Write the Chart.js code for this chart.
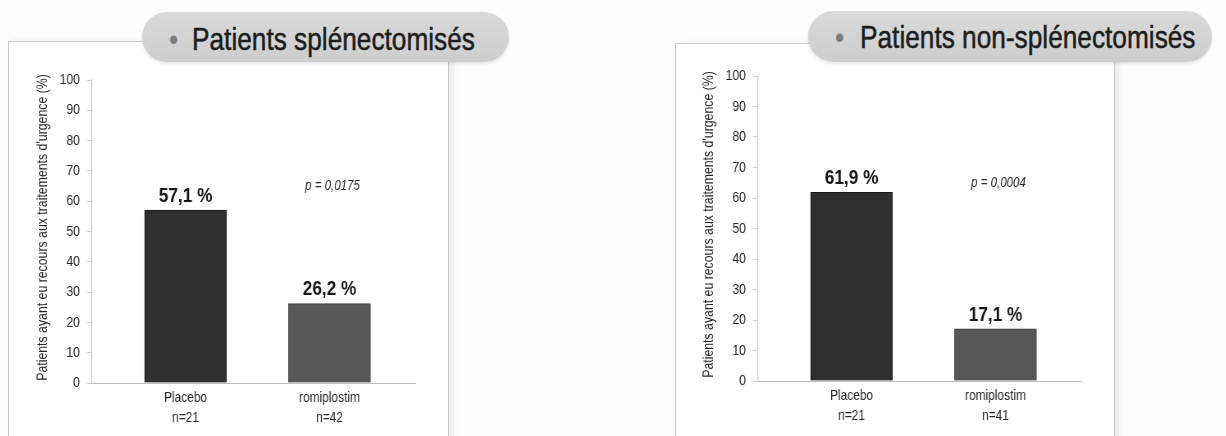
<!DOCTYPE html>
<html lang="fr">
<head>
<meta charset="utf-8">
<script src="https://cdn.jsdelivr.net/npm/chart.js@4/dist/chart.umd.min.js"></script>
<style>
    html, body {
        margin: 0;
        padding: 0;
        width: 1226px;
        height: 436px;
        overflow: hidden;
        background: #fdfdfd;
    }
    body {
        position: relative;
        font-family: "Liberation Sans", Arial, sans-serif;
    }
    .cadre {
        position: absolute;
        border: 1px solid #cbcbcb;
        background: #fff;
        box-shadow: 4px 0 6px rgba(0, 0, 0, 0.07);
    }
    .pastille {
        position: absolute;
        border-radius: 26px;
        background: linear-gradient(#dadada, #cdcdcd);
        box-shadow: 0 2px 3px rgba(0, 0, 0, 0.1);
        color: #1d1d1d;
        font-size: 32px;
        white-space: nowrap;
    }
    .pastille span {
        position: absolute;
        transform: scaleX(0.82);
        transform-origin: 0 0;
        -webkit-text-stroke: 0.5px #1d1d1d;
    }
    .pastille span.puce {
        color: #7c7c7c;
        -webkit-text-stroke: 0;
    }
    /* le canvas est dessiné plus large puis resserré : texte "narrow" */
    canvas {
        position: absolute;
        transform: scaleX(0.82);
        transform-origin: 0 0;
    }
</style>
</head>
<body>

<div class="cadre" style="left:8px; top:41px; width:439px; height:420px;"></div>
<div class="pastille" style="left:142px; top:12px; width:367px; height:50px; line-height:54px;">
    <span class="puce" style="left:27px;">•</span>
    <span style="left:50px;">Patients splénectomisés</span>
</div>
<canvas id="graphique-splen" width="512" height="376" style="left:20px; top:60px;"></canvas>

<div class="cadre" style="left:675px; top:43px; width:438px; height:420px;"></div>
<div class="pastille" style="left:808px; top:11px; width:404px; height:51px; line-height:53px;">
    <span class="puce" style="left:27px;">•</span>
    <span style="left:52px;">Patients non-splénectomisés</span>
</div>
<canvas id="graphique-non-splen" width="512" height="376" style="left:686px; top:56px;"></canvas>

<script>
// Données
const groupes = ['Placebo', 'romiplostim'];
const effectifsSplen = ['n=21', 'n=42'];
const effectifsNonSplen = ['n=21', 'n=41'];
const valeursSplen = [57.1, 26.2];
const valeursNonSplen = [61.9, 17.1];
const etiquettesSplen = ['57,1 %', '26,2 %'];
const etiquettesNonSplen = ['61,9 %', '17,1 %'];
const pValeurSplen = 'p = 0,0175';
const pValeurNonSplen = 'p = 0,0004';
const graduationsY = [0, 10, 20, 30, 40, 50, 60, 70, 80, 90, 100];
const titreY = "Patients ayant eu recours aux traitements d'urgence (%)";

const couleursBarres = ['#2f2f2f', '#575757'];
const bordsBarres = ['#1b1b1b', '#3e3e3e'];
const POLICE = '"Liberation Sans", Arial, sans-serif';
const K = 0.82;          // resserrement horizontal du canvas (cf. CSS)
const NIVEAU_P = 65;     // hauteur (en %) du texte de la valeur p

// Étiquettes au-dessus des barres, valeur p et titre vertical
const pluginEtiquettes = {
    id: 'etiquettes',
    afterDatasetsDraw(chart, args, opts) {
        const ctx = chart.ctx;
        const meta = chart.getDatasetMeta(0);
        ctx.save();
        ctx.fillStyle = '#161616';
        ctx.font = 'bold 21px ' + POLICE;
        ctx.textAlign = 'center';
        ctx.textBaseline = 'middle';
        meta.data.forEach((barre, i) => {
            ctx.fillText(opts.textes[i], barre.x, barre.y - 14);
        });

        ctx.font = 'italic 14px ' + POLICE;
        ctx.fillStyle = '#2a2a2a';
        const x = chart.scales.x.getPixelForValue(1) + 3 / K;
        const y = chart.scales.y.getPixelForValue(NIVEAU_P);
        ctx.fillText(opts.pValeur, x, y);

        // titre de l'axe Y, tourné ; compensé pour le resserrement
        const echelleY = chart.scales.y;
        ctx.translate(23 / K, (echelleY.top + echelleY.bottom) / 2 - 4);
        ctx.rotate(-Math.PI / 2);
        ctx.scale(K, 1 / K);
        ctx.font = '15px ' + POLICE;
        ctx.fillStyle = '#262626';
        ctx.fillText(titreY, 0, 0);
        ctx.restore();
    }
};

function creerGraphique(idCanvas, valeurs, effectifs, textes, pValeur, hauteurAxeX) {
    const ctx = document.getElementById(idCanvas).getContext('2d');

    return new Chart(ctx, {
        type: 'bar',
        data: {
            datasets: [{
                data: valeurs.map((v, i) => ({ x: i, y: v })),
                backgroundColor: couleursBarres,
                borderColor: bordsBarres,
                borderWidth: 1,
                barThickness: 82 / K
            }]
        },
        plugins: [pluginEtiquettes],
        options: {
            responsive: false,
            animation: false,
            layout: {
                padding: { top: 20, right: 24 / K, bottom: 0, left: 0 }
            },
            plugins: {
                legend: { display: false },
                tooltip: { enabled: false },
                etiquettes: { textes: textes, pValeur: pValeur }
            },
            scales: {
                x: {
                    type: 'linear',
                    min: -0.65,
                    max: 1.6,
                    offset: false,
                    afterBuildTicks: function(scale) {
                        scale.ticks = groupes.map((g, i) => ({ value: i }));
                    },
                    afterFit: function(scale) {
                        scale.height = hauteurAxeX;
                    },
                    grid: { display: false, drawTicks: false, offset: false },
                    border: { display: true, color: '#bdbdbd', width: 1 },
                    ticks: {
                        color: '#262626',
                        padding: 5,
                        maxRotation: 0,
                        autoSkip: false,
                        font: { family: POLICE, size: 14.5, lineHeight: 1.38 },
                        callback: function(valeur) {
                            return [groupes[valeur], effectifs[valeur]];
                        }
                    }
                },
                y: {
                    min: 0,
                    max: 100,
                    afterBuildTicks: function(scale) {
                        scale.ticks = graduationsY.map(v => ({ value: v }));
                    },
                    afterFit: function(scale) {
                        scale.width = 72 / K;
                    },
                    grid: {
                        drawOnChartArea: false,
                        drawTicks: true,
                        tickLength: 5 / K,
                        color: '#d0d0d0'
                    },
                    border: { display: true, color: '#cfcfcf', width: 1 / K },
                    ticks: {
                        color: '#262626',
                        padding: 7 / K,
                        font: { family: POLICE, size: 15 }
                    }
                }
            }
        }
    });
}

creerGraphique('graphique-splen', valeursSplen, effectifsSplen, etiquettesSplen, pValeurSplen, 53);
creerGraphique('graphique-non-splen', valeursNonSplen, effectifsNonSplen, etiquettesNonSplen, pValeurNonSplen, 51);
</script>
</body>
</html>
